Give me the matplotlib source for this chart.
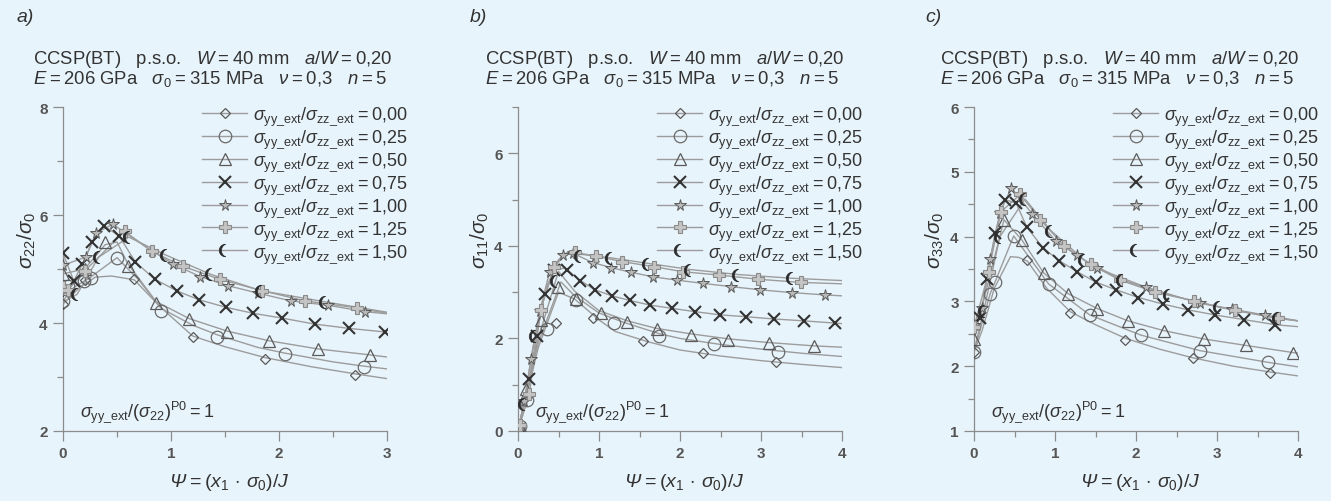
import numpy as np
import matplotlib
matplotlib.use('Agg')
import matplotlib.pyplot as plt
from matplotlib.lines import Line2D
from matplotlib.ticker import MultipleLocator

plt.rcParams['font.family'] = ['Liberation Sans', 'DejaVu Sans']
plt.rcParams['mathtext.fontset'] = 'custom'
plt.rcParams['mathtext.rm'] = 'Liberation Sans'
plt.rcParams['mathtext.it'] = 'Liberation Sans:italic'
plt.rcParams['mathtext.bf'] = 'Liberation Sans:bold'
plt.rcParams['mathtext.sf'] = 'Liberation Sans:italic'  # used for the italic Psi

ratios = ['0,00', '0,25', '0,50', '0,75', '1,00', '1,25', '1,50']

# ---- panel a) sigma22/sigma0 ----
a_mx = [[0, 0.2, 0.66, 1.20, 1.87, 2.70],
        [0, 0.05, 0.19, 0.26, 0.50, 0.91, 1.43, 2.06, 2.79],
        [0, 0.2, 0.39, 0.60, 0.86, 1.17, 1.52, 1.91, 2.36, 2.84],
        [0, 0.1, 0.18, 0.27, 0.38, 0.52, 0.67, 0.85, 1.06, 1.26, 1.51, 1.76, 2.03, 2.33, 2.65, 2.98],
        [0, 0.21, 0.31, 0.46, 0.82, 1.02, 1.27, 1.53, 1.81, 2.11, 2.45, 2.80],
        [0, 0.05, 0.2, 0.57, 0.82, 1.11, 1.45, 1.84, 2.24, 2.72],
        [0, 0.13, 0.33, 0.61, 0.95, 1.37, 1.83, 2.43]]
a_my = [[4.35, 4.80, 4.81, 3.74, 3.34, 3.04],
        [4.41, 4.68, 4.78, 4.83, 5.21, 4.23, 3.75, 3.42, 3.19],
        [4.91, 5.00, 5.50, 5.06, 4.37, 4.07, 3.84, 3.66, 3.51, 3.40],
        [5.29, 4.78, 5.09, 5.50, 5.80, 5.61, 5.13, 4.81, 4.59, 4.43, 4.29, 4.18, 4.09, 3.98, 3.90, 3.84],
        [5.07, 5.22, 5.67, 5.83, 5.34, 5.09, 4.86, 4.69, 4.55, 4.41, 4.33, 4.21],
        [4.67, 4.62, 4.96, 5.70, 5.33, 5.05, 4.81, 4.60, 4.41, 4.28],
        [4.39, 4.53, 5.22, 5.59, 5.26, 4.90, 4.60, 4.39]]
a_lx = [[0, 0.15, 0.3, 0.45, 0.66, 0.9, 1.2, 1.5, 1.87, 2.3, 2.7, 3.0],
        [0, 0.1, 0.25, 0.5, 0.7, 0.91, 1.2, 1.43, 1.8, 2.06, 2.5, 2.79, 3.0],
        [0, 0.2, 0.39, 0.5, 0.6, 0.86, 1.17, 1.52, 1.91, 2.36, 2.84, 3.0],
        [0, 0.1, 0.18, 0.27, 0.38, 0.52, 0.67, 0.85, 1.06, 1.26, 1.51, 1.76, 2.03, 2.33, 2.65, 3.0],
        [0, 0.21, 0.31, 0.46, 0.82, 1.02, 1.27, 1.53, 1.81, 2.11, 2.45, 2.80, 3.0],
        [0, 0.05, 0.2, 0.57, 0.82, 1.11, 1.45, 1.84, 2.24, 2.72, 3.0],
        [0, 0.13, 0.33, 0.61, 0.95, 1.37, 1.83, 2.43, 3.0]]
a_ly = [[4.35, 4.65, 4.85, 4.87, 4.80, 4.30, 3.76, 3.56, 3.36, 3.19, 3.06, 2.97],
        [4.41, 4.66, 4.84, 5.21, 4.80, 4.27, 3.96, 3.78, 3.55, 3.44, 3.28, 3.20, 3.15],
        [4.91, 5.00, 5.45, 5.50, 5.10, 4.40, 4.08, 3.85, 3.67, 3.52, 3.41, 3.37],
        [5.29, 4.78, 5.09, 5.50, 5.80, 5.61, 5.13, 4.81, 4.59, 4.43, 4.29, 4.18, 4.09, 3.98, 3.90, 3.83],
        [5.07, 5.22, 5.67, 5.83, 5.34, 5.09, 4.86, 4.69, 4.55, 4.41, 4.33, 4.21, 4.17],
        [4.67, 4.62, 4.96, 5.70, 5.33, 5.05, 4.81, 4.60, 4.41, 4.28, 4.18],
        [4.39, 4.53, 5.22, 5.59, 5.26, 4.90, 4.60, 4.39, 4.20]]

# ---- panel b) sigma11/sigma0 ----
b_mx = [[0.02, 0.14, 0.47, 0.92, 1.54, 2.29, 3.18],
        [0.02, 0.11, 0.36, 0.71, 1.18, 1.74, 2.42, 3.21],
        [0.02, 0.1, 0.28, 0.49, 0.72, 1.02, 1.35, 1.71, 2.13, 2.59, 3.10, 3.65],
        [0.02, 0.14, 0.23, 0.33, 0.45, 0.6, 0.77, 0.95, 1.16, 1.38, 1.63, 1.90, 2.18, 2.49, 2.81, 3.16, 3.53, 3.91],
        [0.02, 0.08, 0.16, 0.27, 0.39, 0.55, 0.68, 0.92, 1.15, 1.39, 1.67, 1.96, 2.28, 2.63, 2.99, 3.38, 3.79],
        [0.02, 0.14, 0.28, 0.45, 0.70, 0.96, 1.28, 1.68, 2.04, 2.48, 2.96, 3.49],
        [0.07, 0.21, 0.47, 0.76, 1.15, 1.61, 2.12, 2.72, 3.38]]
b_my = [[0.05, 0.78, 2.34, 2.45, 1.95, 1.68, 1.49],
        [0.10, 0.67, 2.20, 2.83, 2.34, 2.06, 1.87, 1.70],
        [0.10, 0.90, 2.39, 3.12, 2.85, 2.55, 2.35, 2.20, 2.08, 1.97, 1.90, 1.83],
        [0.05, 1.13, 2.06, 2.97, 3.48, 3.48, 3.25, 3.05, 2.92, 2.82, 2.72, 2.65, 2.58, 2.51, 2.47, 2.42, 2.38, 2.33],
        [0.12, 0.65, 1.56, 2.60, 3.44, 3.80, 3.84, 3.64, 3.53, 3.43, 3.33, 3.26, 3.19, 3.12, 3.05, 2.99, 2.94],
        [0.12, 0.80, 2.62, 3.55, 3.86, 3.78, 3.66, 3.55, 3.44, 3.37, 3.28, 3.21],
        [0.58, 2.05, 3.25, 3.78, 3.73, 3.61, 3.48, 3.38, 3.30]]
b_lx = [[0, 0.25, 0.5, 0.7, 1.0, 1.2, 1.6, 2.0, 2.5, 3.0, 3.5, 4.0],
        [0, 0.25, 0.53, 0.7, 1.0, 1.3, 1.75, 2.0, 2.5, 3.0, 3.5, 4.0],
        [0, 0.25, 0.5, 0.7, 1.0, 1.35, 1.7, 2.13, 2.6, 3.1, 3.65, 4.0],
        [0, 0.14, 0.23, 0.33, 0.45, 0.58, 0.77, 0.95, 1.16, 1.38, 1.63, 1.90, 2.18, 2.49, 2.81, 3.16, 3.53, 4.0],
        [0, 0.08, 0.16, 0.27, 0.39, 0.55, 0.68, 0.92, 1.15, 1.39, 1.67, 1.96, 2.28, 2.63, 2.99, 3.38, 3.79, 4.0],
        [0, 0.14, 0.28, 0.45, 0.6, 0.70, 0.96, 1.28, 1.68, 2.04, 2.48, 2.96, 3.49, 4.0],
        [0, 0.07, 0.21, 0.35, 0.5, 0.65, 0.76, 1.15, 1.61, 2.12, 2.72, 3.38, 4.0]]
b_ly = [[0, 1.80, 3.00, 2.85, 2.40, 2.15, 1.93, 1.75, 1.62, 1.52, 1.44, 1.37],
        [0, 1.90, 3.22, 2.92, 2.55, 2.35, 2.10, 2.00, 1.87, 1.77, 1.68, 1.61],
        [0, 2.00, 3.45, 3.02, 2.60, 2.38, 2.22, 2.10, 1.99, 1.91, 1.84, 1.81],
        [0, 1.13, 2.06, 2.97, 3.48, 3.52, 3.25, 3.05, 2.92, 2.82, 2.72, 2.65, 2.58, 2.51, 2.47, 2.42, 2.38, 2.32],
        [0, 0.65, 1.56, 2.60, 3.44, 3.80, 3.84, 3.64, 3.53, 3.43, 3.33, 3.26, 3.19, 3.12, 3.05, 2.99, 2.94, 2.92],
        [0, 0.80, 2.62, 3.55, 3.85, 3.86, 3.78, 3.66, 3.55, 3.44, 3.37, 3.28, 3.21, 3.18],
        [0, 0.58, 2.05, 3.10, 3.70, 3.86, 3.82, 3.74, 3.62, 3.49, 3.38, 3.30, 3.25]]

# ---- panel c) sigma33/sigma0 ----
c_mx = [[0, 0.66, 1.19, 1.87, 2.70, 3.66],
        [0, 0.2, 0.26, 0.49, 0.92, 1.43, 2.06, 2.79, 3.63],
        [0, 0.37, 0.59, 0.86, 1.16, 1.52, 1.90, 2.34, 2.84, 3.36, 3.94],
        [0, 0.08, 0.16, 0.26, 0.38, 0.52, 0.65, 0.85, 1.05, 1.27, 1.50, 1.75, 2.03, 2.33, 2.64, 2.98, 3.33, 3.72],
        [0, 0.1, 0.2, 0.32, 0.46, 0.72, 1.01, 1.27, 1.52, 2.12, 2.79, 3.19, 3.59],
        [0, 0.18, 0.33, 0.57, 0.82, 1.11, 1.44, 1.80, 2.24, 2.71, 3.22, 3.75],
        [0, 0.12, 0.32, 0.63, 0.95, 1.36, 1.83, 2.41, 3.03, 3.75]]
c_my = [[2.22, 3.64, 2.82, 2.41, 2.12, 1.90],
        [2.22, 3.12, 3.30, 4.01, 3.27, 2.79, 2.48, 2.24, 2.06],
        [2.42, 4.26, 3.95, 3.44, 3.12, 2.89, 2.70, 2.55, 2.42, 2.32, 2.21],
        [2.65, 2.75, 3.35, 4.05, 4.57, 4.52, 4.15, 3.83, 3.63, 3.46, 3.30, 3.18, 3.06, 2.96, 2.87, 2.79, 2.72, 2.64],
        [2.63, 2.90, 3.66, 4.37, 4.75, 4.35, 3.93, 3.71, 3.51, 3.22, 2.97, 2.88, 2.79],
        [2.60, 3.45, 4.38, 4.65, 4.26, 3.86, 3.57, 3.33, 3.14, 3.01, 2.86, 2.74],
        [2.24, 2.85, 4.00, 4.58, 4.09, 3.64, 3.33, 3.10, 2.91, 2.74]]
c_lx = [[0, 0.1, 0.25, 0.45, 0.55, 0.66, 0.9, 1.19, 1.5, 1.87, 2.3, 2.7, 3.2, 3.66, 4.0],
        [0, 0.2, 0.26, 0.49, 0.92, 1.43, 2.06, 2.79, 3.63, 4.0],
        [0, 0.37, 0.59, 0.86, 1.16, 1.52, 1.90, 2.34, 2.84, 3.36, 3.94, 4.0],
        [0, 0.08, 0.16, 0.26, 0.38, 0.52, 0.65, 0.85, 1.05, 1.27, 1.50, 1.75, 2.03, 2.33, 2.64, 2.98, 3.33, 3.72, 4.0],
        [0, 0.1, 0.2, 0.32, 0.46, 0.72, 1.01, 1.27, 1.52, 2.12, 2.79, 3.19, 3.59, 4.0],
        [0, 0.18, 0.33, 0.57, 0.82, 1.11, 1.44, 1.80, 2.24, 2.71, 3.22, 3.75, 4.0],
        [0, 0.12, 0.32, 0.63, 0.95, 1.36, 1.83, 2.41, 3.03, 3.75, 4.0]]
c_ly = [[2.22, 2.55, 3.20, 3.69, 3.68, 3.62, 3.20, 2.84, 2.64, 2.43, 2.26, 2.13, 2.00, 1.91, 1.85],
        [2.22, 3.12, 3.30, 4.01, 3.27, 2.79, 2.48, 2.24, 2.06, 1.99],
        [2.42, 4.26, 3.95, 3.44, 3.12, 2.89, 2.70, 2.55, 2.42, 2.32, 2.21, 2.20],
        [2.65, 2.75, 3.35, 4.05, 4.57, 4.52, 4.15, 3.83, 3.63, 3.46, 3.30, 3.18, 3.06, 2.96, 2.87, 2.79, 2.72, 2.64, 2.61],
        [2.63, 2.90, 3.66, 4.37, 4.75, 4.35, 3.93, 3.71, 3.51, 3.22, 2.97, 2.88, 2.79, 2.70],
        [2.60, 3.45, 4.38, 4.65, 4.26, 3.86, 3.57, 3.33, 3.14, 3.01, 2.86, 2.74, 2.70],
        [2.24, 2.85, 4.00, 4.58, 4.09, 3.64, 3.33, 3.10, 2.91, 2.74, 2.70]]

# crescent marker (left half moon)
t_out = np.linspace(np.pi / 2, 3 * np.pi / 2, 24)
t_in = np.linspace(np.radians(245.8), np.radians(114.2), 24)
moon = list(zip(np.cos(t_out), np.sin(t_out))) + \
    list(zip(0.45 + 1.097 * np.cos(t_in), 1.097 * np.sin(t_in)))

styles = [
    dict(marker='D', ms=5.5, mfc='none', mec='#5a5a5a', mew=0.9),
    dict(marker='o', ms=9, mfc='none', mec='#6a6a6a', mew=0.9),
    dict(marker='^', ms=8, mfc='none', mec='#5a5a5a', mew=0.9),
    dict(marker='x', ms=8, mfc='none', mec='#333333', mew=1.5),
    dict(marker='*', ms=8.5, mfc='#b8b8b8', mec='#5a5a5a', mew=0.7),
    dict(marker='P', ms=8, mfc='#c4c4c4', mec='#8a8a8a', mew=0.8),
    dict(marker=moon, ms=9, mfc='#2b2b2b', mec='#2b2b2b', mew=0.5),
]
line_col = '#9c9c9c'
txt_col = '#333333'
bg = '#e8f4fb'

fig = plt.figure(figsize=(13.31, 5.02), dpi=100, facecolor=bg)
W, H = 1331.0, 502.0

panels = [
    dict(mx=a_mx, my=a_my, lx=a_lx, ly=a_ly, left=63, xmax=3, ylim=(2, 8), ymaj=2, ymin=1,
         ylab=r'$\sigma_{22}/\sigma_0$', tag='a)', tagx=17, headx=33, ylx=27),
    dict(mx=b_mx, my=b_my, lx=b_lx, ly=b_ly, left=518, xmax=4, ylim=(0, 7), ymaj=2, ymin=1,
         ylab=r'$\sigma_{11}/\sigma_0$', tag='b)', tagx=470, headx=485, ylx=480),
    dict(mx=c_mx, my=c_my, lx=c_lx, ly=c_ly, left=974, xmax=4, ylim=(1, 6), ymaj=1, ymin=0.5,
         ylab=r'$\sigma_{33}/\sigma_0$', tag='c)', tagx=925, headx=940, ylx=935),
]

eq = '\u2009=\u2009'

for p in panels:
    ax = fig.add_axes([p['left'] / W, 70 / H, 324 / W, 324 / H])
    ax.set_facecolor('none')
    for i in range(7):
        ax.plot(p['lx'][i], p['ly'][i], color=line_col, lw=1.0, zorder=2)
        ax.plot(p['mx'][i], p['my'][i], ls='none', zorder=3, **styles[i])
    ax.set_xlim(0, p['xmax'])
    ax.set_ylim(*p['ylim'])
    ax.xaxis.set_major_locator(MultipleLocator(1))
    ax.xaxis.set_minor_locator(MultipleLocator(0.5))
    ax.yaxis.set_major_locator(MultipleLocator(p['ymaj']))
    ax.yaxis.set_minor_locator(MultipleLocator(p['ymin']))
    for s in ['top', 'right']:
        ax.spines[s].set_visible(False)
    for s in ['left', 'bottom']:
        ax.spines[s].set_color('#8c8c8c')
        ax.spines[s].set_linewidth(0.9)
    ax.tick_params(which='major', direction='out', length=7, width=0.9, color='#8c8c8c',
                   labelcolor='#555555', labelsize=11, pad=4)
    ax.tick_params(which='minor', direction='out', length=4, width=0.9, color='#8c8c8c')
    for lab in ax.get_xticklabels() + ax.get_yticklabels():
        lab.set_fontweight('bold')

    handles = [Line2D([], [], color=line_col, lw=1.0, **styles[i]) for i in range(7)]
    labels = [r'$\sigma_{\rm yy\_ext}/\sigma_{\rm zz\_ext}$' + eq + r for r in ratios]
    fig.legend(handles, labels, loc='upper left',
               bbox_to_anchor=((p['left'] + 139) / W, 1 - 106 / H),
               frameon=False, fontsize=13, handlelength=2.5, handletextpad=0.35,
               labelspacing=0.02, borderpad=0, borderaxespad=0, labelcolor=txt_col)

    fig.text(p['tagx'] / W, 1 - 17 / H, p['tag'], fontsize=14, style='italic',
             color=txt_col, va='center')
    fig.text(p['headx'] / W, 1 - 59 / H,
             'CCSP(BT)   p.s.o.   $W$' + eq + '40 mm   $a/W$' + eq + '0,20',
             fontsize=13.3, color=txt_col, va='center')
    fig.text(p['headx'] / W, 1 - 79 / H,
             r'$E$' + eq + '206 GPa   ' + r'$\sigma_0$' + eq + '315 MPa   '
             + r'$\nu$' + eq + '0,3   ' + r'$n$' + eq + '5',
             fontsize=13.3, color=txt_col, va='center')
    fig.text(p['ylx'] / W, 1 - 240 / H, p['ylab'], fontsize=15, rotation=90,
             color=txt_col, ha='center', va='center')
    fig.text((p['left'] + 17) / W, 1 - 412 / H,
             r'$\sigma_{\rm yy\_ext}/(\sigma_{22})^{\rm P0}$' + eq + '1',
             fontsize=13, color=txt_col, va='center')
    fig.text((p['left'] + 166) / W, 1 - 483 / H,
             r'$\mathsf{Ψ}$' + eq + r'($x_1\,\cdot\,\sigma_0$)/$J$',
             fontsize=14, color=txt_col, ha='center', va='center')

fig.savefig('out.png', dpi=100, facecolor=bg)
